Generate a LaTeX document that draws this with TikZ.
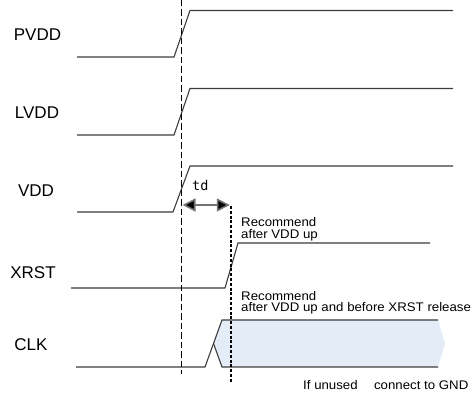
\documentclass[tikz,border=0pt]{standalone}
\usepackage{fontspec}
\setmainfont{Liberation Sans}
\newfontfamily\monofnt{DejaVu Sans Mono}
\usetikzlibrary{arrows.meta}
\definecolor{clkfill}{RGB}{228,236,248}
\definecolor{sigcol}{RGB}{60,60,60}
\tikzset{
  sig/.style={draw=sigcol, line width=1.1pt},
  lbl/.style={inner sep=0pt, anchor=center, font=\fontsize{17}{20}\selectfont},
  note/.style={inner sep=0pt, anchor=base west, font=\fontsize{12.5}{14}\selectfont, xscale=1.06, transform shape},
  refdash/.style={draw=black, line width=1.5pt, dash pattern=on 6.5pt off 3pt},
  refdot/.style={draw=black, line width=1.8pt, dash pattern=on 3pt off 1.8pt},
  tdarrow/.style={draw=black!55, line width=1.6pt, {Triangle[length=13pt,width=13pt,fill=black]}-{Triangle[length=13pt,width=13pt,fill=black]}}
}
\begin{document}
\begin{tikzpicture}[x=1pt,y=-1pt]
\useasboundingbox (0,0) rectangle (475,398);
% labels
\node[lbl] (pvdd) at (37.5,35) {PVDD};
\node[lbl] (lvdd) at (37,113) {LVDD};
\node[lbl] (vdd)  at (36,191) {VDD};
\node[lbl] (xrst) at (33,273) {XRST};
\node[lbl] (clk)  at (31,345) {CLK};
% clk fill
\fill[clkfill] (222,320) -- (438,320) -- (445,343.5) -- (438,367) -- (222,367) -- (213.5,343.5) -- cycle;
% waveforms
\draw[sig] (77,57) -- (174,57) -- (190,10.5) -- (453,10.5);
\draw[sig] (77,135) -- (174,135) -- (190,88.5) -- (453,88.5);
\draw[sig] (77,212) -- (173,212) -- (190,166) -- (453,166);
\draw[sig] (71,288) -- (225,288) -- (238,243) -- (430,243);
\draw[sig] (76,367) -- (205,367) -- (222,320) -- (438,320);
\draw[sig] (213.5,343.5) -- (222,367) -- (438,367);
% reference lines
\coordinate (dtop) at (181.7,0);
\coordinate (dbot) at (181.7,374);
\coordinate (ptop) at (230.7,206);
\coordinate (pbot) at (230.7,382);
\draw[refdash] (dtop) -- (dbot);
\draw[refdot] (ptop) -- (pbot);
% td arrow
\coordinate (tdl) at (182.5,205);
\coordinate (tdr) at (229.8,205);
\draw[tdarrow] (tdl) -- (tdr);
\node[inner sep=0pt, anchor=base west, font=\monofnt\fontsize{13.5}{15}\selectfont] (td) at (192,190.5) {td};
% notes
\node[note] (n1a) at (241,227) {Recommend};
\node[note] (n1b) at (241,238.5) {after VDD up};
\node[note] (n2a) at (241,300.5) {Recommend};
\node[note] (n2b) at (241,312) {after VDD up and before XRST release};
\node[note] (n3) at (303,390) {If unused\hspace{12pt} connect to GND};
\end{tikzpicture}
\end{document}
